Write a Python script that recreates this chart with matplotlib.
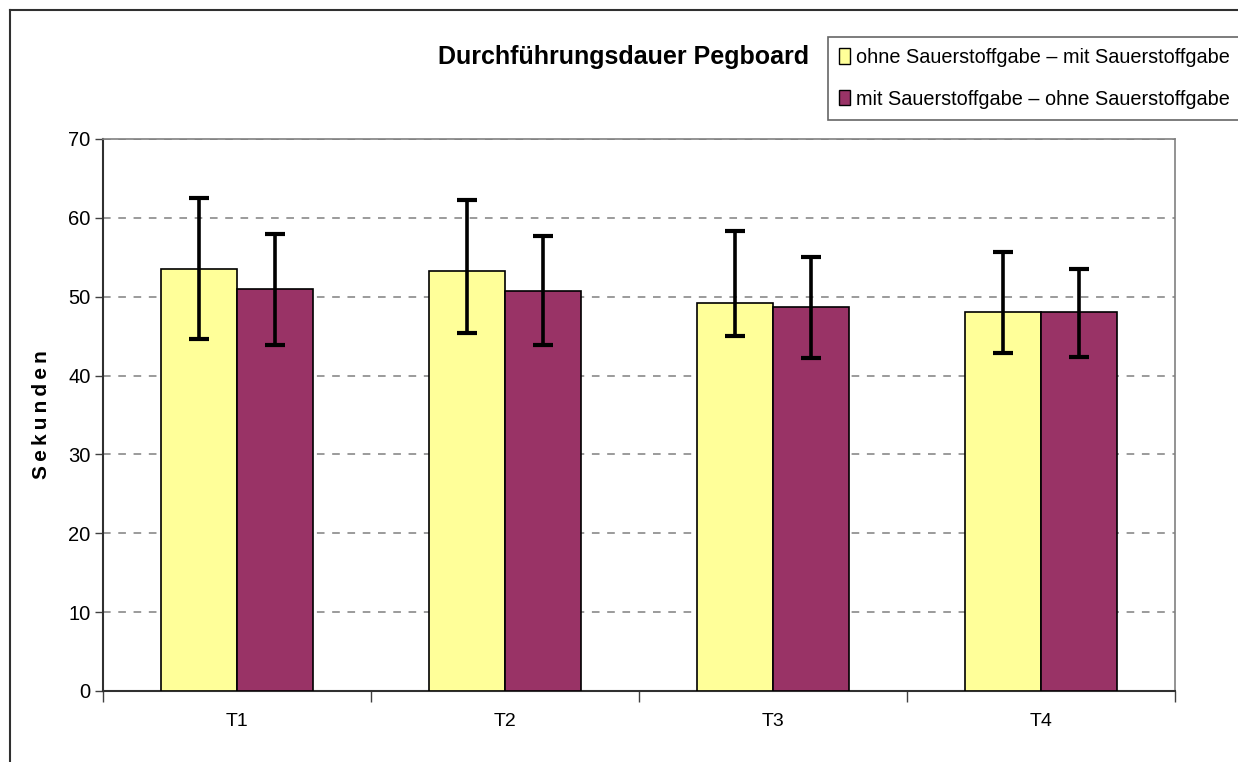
import matplotlib
matplotlib.use("Agg")
import matplotlib.pyplot as plt
import numpy as np
from matplotlib.patches import Patch
from matplotlib.lines import Line2D

# data
cats = ["T1", "T2", "T3", "T4"]
ohne_mit = [53.5, 53.3, 49.2, 48.0]
ohne_mit_hi = [62.5, 62.3, 58.3, 55.7]
ohne_mit_lo = [44.7, 45.4, 45.0, 42.9]
mit_ohne = [51.0, 50.7, 48.7, 48.0]
mit_ohne_hi = [58.0, 57.7, 55.0, 53.5]
mit_ohne_lo = [43.9, 43.9, 42.2, 42.4]
labels = ["ohne Sauerstoffgabe \u2013 mit Sauerstoffgabe",
          "mit Sauerstoffgabe \u2013 ohne Sauerstoffgabe"]

plt.rcParams["font.family"] = ["Liberation Sans", "DejaVu Sans"]

W, H = 1238, 762
fig = plt.figure(figsize=(W / 100, H / 100), dpi=100)
ax = fig.add_axes([103 / W, 1 - 691 / H, (1175 - 103) / W, (691 - 139) / H])

x = np.arange(len(cats))
w = 0.285
err1 = [np.array(ohne_mit) - np.array(ohne_mit_lo), np.array(ohne_mit_hi) - np.array(ohne_mit)]
err2 = [np.array(mit_ohne) - np.array(mit_ohne_lo), np.array(mit_ohne_hi) - np.array(mit_ohne)]
ekw = dict(ecolor="black", elinewidth=2.6, capsize=7, capthick=3)
ax.bar(x - w / 2, ohne_mit, w, color="#FFFF99", edgecolor="black", linewidth=1.2,
       yerr=err1, error_kw=ekw, zorder=3)
ax.bar(x + w / 2, mit_ohne, w, color="#993366", edgecolor="black", linewidth=1.2,
       yerr=err2, error_kw=ekw, zorder=3)

ax.set_xlim(-0.5, len(cats) - 0.5)
ax.set_ylim(0, 70)
ax.set_yticks(range(0, 71, 10))
ax.yaxis.grid(True, color="#808080", linestyle=(0, (5, 5)), linewidth=1.1)
ax.set_axisbelow(True)
ax.tick_params(axis="y", direction="out", length=6, width=1, labelsize=14.5, pad=3, color="#404040")
ax.set_xticks(np.arange(len(cats) + 1) - 0.5)
ax.set_xticklabels([])
ax.set_xticks(x, minor=True)
ax.set_xticklabels(cats, minor=True, fontsize=14)
ax.tick_params(axis="x", which="major", direction="out", length=8, width=1, color="#404040")
ax.tick_params(axis="x", which="minor", length=0, pad=16)
for s in ["top", "right"]:
    ax.spines[s].set_color("#808080")
    ax.spines[s].set_linewidth(1.2)
for s in ["left", "bottom"]:
    ax.spines[s].set_color("#303030")
    ax.spines[s].set_linewidth(1.5)

ax.set_ylabel("\u2009".join("Sekunden"), fontsize=15, fontweight="bold", labelpad=12)

fig.text(624 / W, 1 - 57 / H, "Durchführungsdauer Pegboard", fontsize=18,
         fontweight="bold", ha="center", va="center")

handles = [Patch(facecolor="#FFFF99", edgecolor="black"),
           Patch(facecolor="#993366", edgecolor="black")]
leg = fig.legend(handles, labels, loc="upper left", bbox_to_anchor=(828 / W, 1 - 37 / H),
                 fontsize=14.3, frameon=True, fancybox=False, handlelength=0.55,
                 handleheight=0.8, handletextpad=0.3, borderpad=0.55, labelspacing=1.15,
                 borderaxespad=0)
leg.get_frame().set_edgecolor("#404040")
leg.get_frame().set_linewidth(1.2)

# outer chart frame (left and top edges visible)
fig.add_artist(Line2D([10 / W, 10 / W], [0, 1 - 10 / H], color="#303030", lw=1.5))
fig.add_artist(Line2D([10 / W, 1], [1 - 10 / H, 1 - 10 / H], color="#303030", lw=1.5))

plt.savefig("out.png", dpi=100)
